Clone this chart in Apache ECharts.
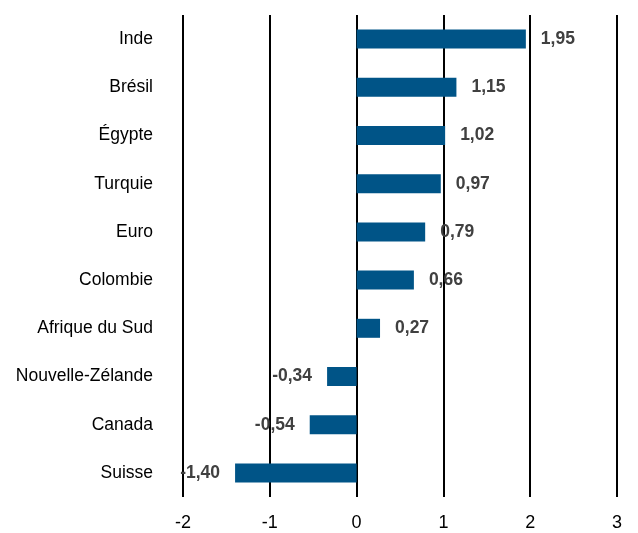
<!DOCTYPE html>
<html><head><meta charset="utf-8">
<script src="https://cdn.jsdelivr.net/npm/echarts@6/dist/echarts.min.js"></script>
<style>html,body{margin:0;padding:0;background:#fff}#c{width:638px;height:533px}</style>
</head><body><div id="c"></div>
<script>
const categories = ["Inde","Brésil","Égypte","Turquie","Euro","Colombie","Afrique du Sud","Nouvelle-Zélande","Canada","Suisse"];
const values = [1.95,1.15,1.02,0.97,0.79,0.66,0.27,-0.34,-0.54,-1.40];
const xTicks = [-2,-1,0,1,2,3];
const FONT = '"Liberation Sans",Arial,sans-serif';
const chart = echarts.init(document.getElementById('c'));
chart.setOption({
  animation:false,
  grid:{left:183,right:21,top:15,bottom:36,containLabel:false,outerBoundsMode:'none'},
  xAxis:{type:'value',min:xTicks[0],max:xTicks[xTicks.length-1],interval:1,
    axisLine:{show:false},axisTick:{show:false},
    splitLine:{show:true,lineStyle:{color:'#000',width:2}},
    axisLabel:{fontFamily:FONT,fontSize:18,color:'#000',margin:17,formatter:v=>String(v)}},
  yAxis:{type:'category',inverse:true,data:categories,
    axisLine:{show:false},axisTick:{show:false},splitLine:{show:false},
    axisLabel:{fontFamily:FONT,fontSize:17.5,color:'#000',margin:30}},
  series:[{type:'bar',barWidth:19,
    data:values.map(v=>({value:v,label:{position:v>=0?'right':'left'}})),
    itemStyle:{color:'#005487'},
    label:{show:true,distance:15,fontFamily:FONT,fontSize:17.5,fontWeight:'bold',color:'#404040',
      formatter:p=>p.value.toFixed(2).replace('.',',')}}]
});
</script></body></html>
